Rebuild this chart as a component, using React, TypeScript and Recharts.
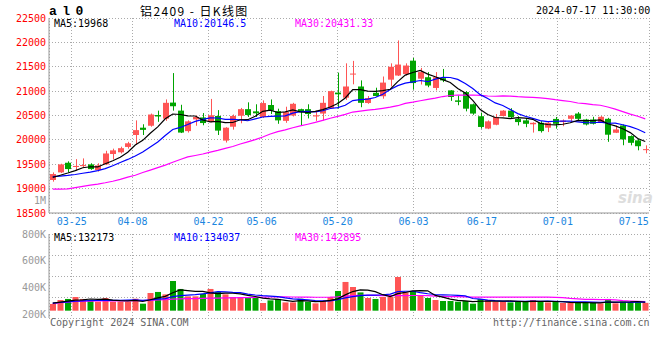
import React from 'react';
import { ComposedChart, Bar, Line, XAxis, YAxis, CartesianGrid, Cell } from 'recharts';

const dates = [
  '03-20','03-21','03-22','03-25','03-26','03-27','03-28','03-29',
  '04-01','04-02','04-03','04-08','04-09','04-10','04-11','04-12','04-15','04-16','04-17','04-18','04-19','04-22','04-23','04-24','04-25','04-26','04-29','04-30',
  '05-06','05-07','05-08','05-09','05-10','05-13','05-14','05-15','05-16','05-17','05-20','05-21','05-22','05-23','05-24','05-27','05-28','05-29','05-30','05-31',
  '06-03','06-04','06-05','06-06','06-07','06-11','06-12','06-13','06-14','06-17','06-18','06-19','06-20','06-21','06-24','06-25','06-26','06-27','06-28',
  '07-01','07-02','07-03','07-04','07-05','07-08','07-09','07-10','07-11','07-12','07-15','07-16','07-17',
];

const opens = [
  19177,19333,19531,19455,19475,19497,19381,19497,19710,19745,
  19855,20100,20250,20290,20510,20435,20765,20600,20180,20420,
  20460,20370,20490,19985,20270,20495,20630,20585,20470,20715,
  20590,20390,20500,20630,20630,20480,20540,20650,20970,20865,
  21340,21095,20756,20965,20895,21235,21320,21350,21625,21255,
  21285,21065,21265,21015,20810,20980,20730,20485,20232,20310,
  20490,20600,20430,20400,20320,20350,20250,20430,20365,20432,
  20540,20418,20418,20364,20432,20146,20296,20078,19990,19800,
];
const highs = [
  19333,19510,19560,19605,19620,19520,19520,19776,19820,19860,
  19960,20400,20320,20540,20600,20830,21370,20720,20400,20500,
  20550,20840,20610,20260,20520,20655,20770,20730,20810,20830,
  20640,20680,20760,20640,20730,20600,20900,21010,21380,21570,
  21620,21220,20900,21070,21300,21570,22040,21570,21680,21476,
  21390,21390,21455,21020,20910,21000,20745,20560,20400,20530,
  20610,20650,20486,20450,20360,20385,20385,20470,20420,20510,
  20570,20432,20473,20490,20452,20296,20316,20092,20024,19888,
];
const lows = [
  19143,19320,19340,19367,19430,19385,19350,19483,19600,19720,
  19820,19900,20100,20270,20370,20390,20600,20140,20150,20290,
  20300,20360,20100,19945,20210,20340,20470,20470,20450,20530,
  20330,20350,20480,20300,20440,20390,20400,20640,20640,20820,
  21140,20670,20740,20890,20845,21095,21310,21320,21030,21135,
  21080,21015,21185,20800,20710,20585,20515,20230,20220,20300,
  20480,20450,20296,20260,20150,20150,20160,20230,20280,20364,
  20405,20296,20316,20350,19960,20140,19890,19888,19786,19725,
];
const closes = [
  19299,19497,19401,19465,19483,19401,19476,19721,19785,19830,
  19930,20200,20205,20520,20480,20760,20690,20150,20380,20470,
  20345,20505,20190,20250,20490,20630,20510,20545,20755,20600,
  20400,20570,20740,20570,20530,20505,20760,21000,20935,21095,
  21360,20760,20858,20900,21175,21500,21545,21525,21165,21390,
  21115,21285,21220,20880,20780,20640,20540,20265,20380,20470,
  20600,20465,20365,20330,20350,20180,20350,20330,20395,20500,
  20432,20316,20330,20473,20106,20214,20010,19940,19870,19810,
];

const ma5 = [
  19230,19275,19320,19370,19429,19449,19445,19509,19573,19643,
  19748,19893,19990,20137,20267,20433,20531,20520,20492,20490,
  20407,20370,20378,20352,20356,20413,20414,20485,20586,20608,
  20562,20574,20613,20576,20562,20583,20621,20673,20746,20859,
  21030,21030,21002,20995,21011,21039,21196,21329,21382,21425,
  21348,21296,21235,21178,21056,20961,20812,20621,20521,20459,
  20451,20436,20456,20446,20422,20338,20315,20308,20321,20351,
  20401,20395,20395,20410,20331,20288,20227,20149,20028,19968,
];
const ma10 = [
  19245,19255,19270,19290,19315,19340,19370,19410,19470,19536,
  19599,19669,19750,19855,19955,20091,20212,20255,20315,20379,
  20420,20451,20449,20422,20423,20410,20392,20432,20469,20482,
  20488,20494,20549,20581,20585,20573,20598,20643,20661,20711,
  20807,20826,20837,20870,20935,21034,21113,21165,21188,21218,
  21193,21246,21282,21280,21241,21155,21054,20928,20850,20758,
  20706,20624,20539,20484,20441,20395,20376,20382,20384,20387,
  20370,20355,20351,20366,20341,20345,20311,20272,20219,20146.5,
];
const ma30 = [
  18990,18990,18995,19020,19048,19070,19092,19120,19152,19190,
  19235,19275,19330,19380,19430,19482,19540,19597,19650,19680,
  19710,19750,19785,19825,19865,19915,19960,20005,20060,20120,
  20169,20205,20249,20286,20321,20358,20401,20443,20482,20524,
  20571,20590,20612,20624,20648,20672,20701,20747,20773,20803,
  20829,20855,20889,20910,20920,20920,20921,20912,20900,20895,
  20902,20898,20886,20878,20872,20861,20847,20825,20807,20787,
  20756,20742,20724,20710,20674,20631,20580,20527,20484,20431.33,
];

const volumes = [
  105000,168000,184000,215000,184000,162000,141000,199000,141000,141000,
  141000,188000,110000,278000,294000,256000,466000,341000,225000,225000,
  262000,341000,294000,256000,215000,215000,215000,215000,121000,162000,
  184000,130000,130000,188000,141000,115000,152000,215000,309000,451000,
  372000,287000,199000,184000,215000,215000,529000,287000,309000,236000,
  199000,168000,152000,152000,141000,152000,110000,184000,168000,141000,
  141000,130000,152000,141000,168000,141000,130000,141000,121000,121000,
  125000,130000,125000,115000,184000,115000,141000,130000,152000,123000,
];
const volMa5 = [
  120000,135000,150000,165000,171000,183000,177000,180000,165000,157000,
  153000,162000,144000,172000,202000,225000,281000,327000,316000,303000,
  304000,279000,269000,276000,274000,264000,239000,223000,196000,186000,
  179000,162000,145000,159000,155000,141000,145000,162000,186000,248000,
  300000,327000,324000,299000,251000,220000,268000,286000,311000,315000,
  312000,240000,213000,181000,162000,153000,141000,148000,151000,151000,
  149000,153000,146000,141000,146000,146000,146000,144000,140000,131000,
  128000,128000,124000,123000,136000,134000,136000,137000,144000,132173,
];
const volMa10 = [
  118000,128000,138000,148000,155000,160000,162000,164000,163000,164000,
  168000,170000,162000,169000,180000,189000,221000,236000,244000,252000,
  265000,280000,298000,296000,288000,284000,259000,246000,236000,230000,
  222000,201000,184000,178000,170000,160000,154000,154000,173000,202000,
  220000,236000,243000,243000,250000,260000,298000,305000,305000,283000,
  266000,254000,249000,246000,239000,233000,191000,180000,166000,157000,
  151000,147000,147000,146000,149000,148000,150000,145000,141000,139000,
  137000,137000,134000,132000,133000,131000,132000,131000,134000,134037,
];
const volMa30 = [
  110000,125000,135000,145000,150000,150000,152000,155000,155000,155000,
  155000,158000,158000,162000,168000,172000,180000,185000,188000,190000,
  193000,196000,198000,200000,202000,204000,206000,208000,212000,215000,
  218000,217000,215000,214000,213000,211000,211000,212000,218000,228000,
  236000,239000,242000,239000,236000,235000,237000,235000,238000,238000,
  236000,230000,226000,222000,220000,218000,214000,213000,215000,214000,
  212000,212000,213000,212000,212000,213000,213000,210000,204000,193000,
  185000,179000,177000,175000,174000,170000,157000,152000,147000,142895,
];

const dateTicks = ['03-25','04-08','04-22','05-06','05-20','06-03','06-17','07-01','07-15'];
const gridDates = ['03-25','04-08','04-22','05-06','05-20','06-03','06-17','07-01'];
const priceTicks = [18500,19000,19500,20000,20500,21000,21500,22000,22500];
const volLabelTicks = [200000,400000,600000,800000];
const volGridTicks = [0,1,2,3,4];

const rows = dates.map((d, i) => ({
  d,
  open: opens[i],
  high: highs[i],
  low: lows[i],
  close: closes[i],
  range: [lows[i], highs[i]],
  ma5: ma5[i],
  ma10: ma10[i],
  ma30: ma30[i],
  vol: volumes[i],
  vma5: volMa5[i],
  vma10: volMa10[i],
  vma30: volMa30[i],
}));

const RED = '#ff5555';
const GREEN = '#00a400';
const BORDER = '#999999';
const GRID = '#aaaaaa';
const MONO = '"DejaVu Sans Mono", "Liberation Mono", monospace';

function Candle(props: any) {
  const { x, y, width, height, payload } = props;
  if (!payload || y == null || height == null) return null;
  const { open, close, high, low } = payload;
  const color = close >= open ? RED : GREEN;
  const k = high > low ? height / (high - low) : 0;
  const yOpen = y + (high - open) * k;
  const yClose = y + (high - close) * k;
  const top = Math.min(yOpen, yClose);
  const bodyH = Math.max(1, Math.abs(yOpen - yClose));
  const bx = Math.round(x);
  const bw = Math.round(width);
  const cx = bx + Math.floor(bw / 2) + 0.5;
  return (
    <g>
      <line x1={cx} x2={cx} y1={y} y2={y + height} stroke={color} strokeWidth={1} />
      <rect x={bx} y={top} width={bw} height={bodyH} fill={color} />
    </g>
  );
}

const textBase: React.CSSProperties = {
  position: 'absolute',
  whiteSpace: 'nowrap',
  fontFamily: MONO,
  fontSize: 10,
  lineHeight: '12px',
};

export default function App() {
  return (
    <div
      style={{
        position: 'absolute',
        left: 0,
        top: 0,
        width: 660,
        height: 360,
        background: '#fff',
        fontFamily: MONO,
        fontSize: 10,
        overflow: 'hidden',
      }}
    >
      {/* Price chart */}
      <div style={{ position: 'absolute', left: 0, top: 0 }}>
        <ComposedChart width={660} height={232} data={rows} margin={{ top: 18, right: 11, bottom: 0, left: 0 }}>
          <CartesianGrid xAxisId="ptg" stroke={GRID} strokeDasharray="1 2" shapeRendering="crispEdges" />
          <XAxis
            xAxisId="pt"
            dataKey="d"
            scale="point"
            ticks={dateTicks}
            interval={0}
            height={19}
            tickLine={false}
            tickSize={4}
            tickMargin={1}
            axisLine={{ stroke: BORDER }}
            tick={{ fill: '#1a86e0', fontSize: 10, fontFamily: MONO }}
          />
          <XAxis xAxisId="ptg" dataKey="d" scale="point" ticks={gridDates} interval={0} hide height={0} />
          <XAxis dataKey="d" hide height={0} />
          <XAxis xAxisId="top" dataKey="d" orientation="top" height={0} tick={false} tickLine={false} axisLine={{ stroke: BORDER }} />
          <YAxis
            domain={[18500, 22500]}
            ticks={priceTicks}
            interval={0}
            width={49}
            tickLine={false}
            tickSize={1}
            tickMargin={2}
            axisLine={{ stroke: BORDER }}
            tick={{ fill: '#ff0000', fontSize: 10, fontFamily: MONO }}
            allowDataOverflow
          />
          <YAxis yAxisId="r" orientation="right" type="number" domain={[0, 1]} width={0} tick={false} tickLine={false} axisLine={{ stroke: BORDER }} allowDataOverflow />
          <Bar dataKey="range" barSize={6} shape={(p: any) => <Candle {...p} />} isAnimationActive={false} />
          <Line dataKey="ma30" stroke="#ff00ff" strokeWidth={1.2} dot={false} activeDot={false} isAnimationActive={false} />
          <Line dataKey="ma10" stroke="#0000ff" strokeWidth={1.2} dot={false} activeDot={false} isAnimationActive={false} />
          <Line dataKey="ma5" stroke="#000000" strokeWidth={1.2} dot={false} activeDot={false} isAnimationActive={false} />
        </ComposedChart>
      </div>

      {/* Volume chart */}
      <div style={{ position: 'absolute', left: 0, top: 228 }}>
        <ComposedChart width={660} height={94} data={rows} margin={{ top: 6, right: 11, bottom: 4, left: 0 }}>
          <CartesianGrid xAxisId="ptg" yAxisId="grid" stroke={GRID} strokeDasharray="1 2" shapeRendering="crispEdges" />
          <XAxis xAxisId="pt" dataKey="d" scale="point" height={0} tick={false} tickLine={false} axisLine={{ stroke: BORDER }} />
          <XAxis xAxisId="ptg" dataKey="d" scale="point" ticks={gridDates} interval={0} hide height={0} />
          <XAxis dataKey="d" hide height={0} />
          <XAxis xAxisId="top" dataKey="d" orientation="top" height={0} tick={false} tickLine={false} axisLine={{ stroke: BORDER }} />
          <YAxis
            yAxisId="lbl"
            type="number"
            domain={[170000, 800000]}
            ticks={volLabelTicks}
            interval={0}
            width={49}
            tickLine={false}
            tickSize={1}
            tickMargin={2}
            axisLine={{ stroke: BORDER }}
            tick={{ fill: '#999999', fontSize: 10, fontFamily: MONO }}
            tickFormatter={(v: number) => `${v / 1000}K`}
            allowDataOverflow
          />
          <YAxis yAxisId="vol" type="number" domain={[-115000, 1204000]} hide width={0} allowDataOverflow />
          <YAxis yAxisId="grid" type="number" domain={[0, 4]} ticks={volGridTicks} interval={0} hide width={0} allowDataOverflow />
          <YAxis yAxisId="r" orientation="right" type="number" domain={[0, 1]} width={0} tick={false} tickLine={false} axisLine={{ stroke: BORDER }} allowDataOverflow />
          <Bar dataKey="vol" yAxisId="vol" barSize={6} isAnimationActive={false}>
            {rows.map((r, i) => (
              <Cell key={i} fill={r.close >= r.open ? RED : GREEN} />
            ))}
          </Bar>
          <Line yAxisId="vol" dataKey="vma30" stroke="#ff00ff" strokeWidth={1.2} dot={false} activeDot={false} isAnimationActive={false} />
          <Line yAxisId="vol" dataKey="vma10" stroke="#0000ff" strokeWidth={1.2} dot={false} activeDot={false} isAnimationActive={false} />
          <Line yAxisId="vol" dataKey="vma5" stroke="#000000" strokeWidth={1.2} dot={false} activeDot={false} isAnimationActive={false} />
        </ComposedChart>
      </div>

      {/* Header texts */}
      <div style={{ ...textBase, left: 49, top: 4, fontFamily: '"Liberation Mono", monospace', fontWeight: 'bold', fontSize: 13, lineHeight: '15px', letterSpacing: -1.2 }}>a l 0</div>
      <div style={{ ...textBase, left: 140, top: 3, fontFamily: '"Noto Sans CJK SC", sans-serif', fontSize: 12, lineHeight: '15px', letterSpacing: 1.4 }}>铝2409 - 日K线图</div>
      <div style={{ ...textBase, left: 536, top: 5 }}>2024-07-17 11:30:00</div>

      {/* Price legend */}
      <div style={{ ...textBase, left: 54, top: 18, color: '#000' }}>MA5:19968</div>
      <div style={{ ...textBase, left: 174, top: 18, color: '#0000ff' }}>MA10:20146.5</div>
      <div style={{ ...textBase, left: 295, top: 18, color: '#ff00ff' }}>MA30:20431.33</div>

      {/* unit label */}
      <div style={{ ...textBase, left: 34, top: 195, color: '#999' }}>1M</div>

      {/* watermark */}
      <div style={{ ...textBase, left: 618, top: 190, fontFamily: '"DejaVu Sans", sans-serif', fontStyle: 'italic', fontWeight: 'bold', fontSize: 15, lineHeight: '16px', color: '#dddddd' }}>sina</div>

      {/* Volume legend */}
      <div style={{ ...textBase, left: 54, top: 232, color: '#000' }}>MA5:132173</div>
      <div style={{ ...textBase, left: 174, top: 232, color: '#0000ff' }}>MA10:134037</div>
      <div style={{ ...textBase, left: 295, top: 232, color: '#ff00ff' }}>MA30:142895</div>

      {/* Footer */}
      <div style={{ ...textBase, left: 50, top: 317, color: '#666' }}>Copyright 2024 SINA.COM</div>
      <div style={{ ...textBase, left: 493, top: 317, color: '#666' }}>http://finance.sina.com.cn</div>
    </div>
  );
}
